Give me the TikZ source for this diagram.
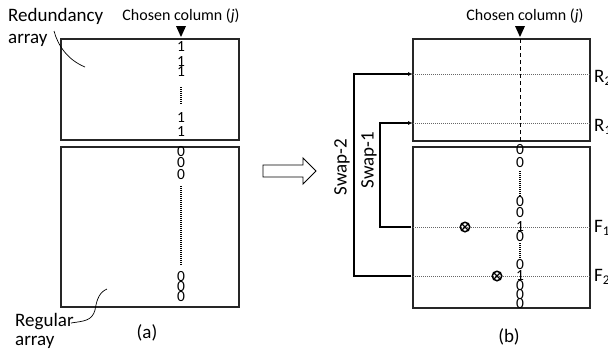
\documentclass[tikz,border=0pt]{standalone}
\usepackage{fontspec}
\setmainfont{Carlito}
\usetikzlibrary{arrows.meta}
\begin{document}
\begin{tikzpicture}[x=1pt,y=-1pt,
  box/.style={draw=black!85,line width=1.3pt,inner sep=0,outer sep=0,anchor=north west,minimum width=178pt},
  lbl/.style={font=\fontsize{19}{22}\selectfont,inner sep=0},
  captxt/.style={font=\fontsize{16}{18}\selectfont,inner sep=0},
  dig/.style={font=\fontsize{15.5}{15}\selectfont,inner sep=0},
  pointer/.style={fill=black},
  rowline/.style={draw=black!60,line width=0.8pt,dash pattern=on 1pt off 1pt},
  coldots/.style={draw=black,line width=1.6pt,dash pattern=on 1pt off 1pt},
  swap/.style={draw=black,line width=1.6pt},
  curve/.style={draw=black,line width=0.7pt},
  fault/.style={circle,draw=black,line width=1.5pt,minimum size=9.5pt,inner sep=0,
    path picture={\draw[line width=1.3pt] (path picture bounding box.south west)--(path picture bounding box.north east)
      (path picture bounding box.north west)--(path picture bounding box.south east);}}]
\useasboundingbox (0,0) rectangle (608,349);
% ---------- (a) ----------
\node[box,minimum height=101pt] (ra) at (61,39) {};
\node[box,minimum height=160pt] (ga) at (61,147) {};
\node[captxt] (cha) at (181,16) {Chosen column (\textit{j})};
\fill[pointer] (176,26) -- (186,26) -- (181,37) -- cycle;
\foreach \y in {47,62,72,118,132} \node[dig] at (181,\y) {1};
\foreach \y in {152,163,175,277,287,297} \node[dig] at (181,\y) {0};
\draw[coldots,line width=1.2pt] (181,87) -- (181,104);
\draw[coldots] (181,186) -- (181,266);
\node[lbl,anchor=west] (red) at (8,16) {Redundancy};
\node[lbl,anchor=west] (redb) at (8,40) {array};
\coordinate (redp) at (85,67);
\draw[curve] (54,31) .. controls (58,46) and (68,60) .. (redp);
\node[lbl,anchor=west] (reg) at (15,322) {Regular};
\node[lbl,anchor=west] (regb) at (15,342) {array};
\coordinate (regp) at (107,289);
\draw[curve] (71,323) .. controls (84,321) and (92,321) .. (95,310) .. controls (97,298) and (100,292) .. (regp);
\node[lbl] (la) at (147,333) {(a)};
% ---------- arrow ----------
\draw[line width=0.9pt,fill=white] (263,165) -- (303,165) -- (303,158) -- (316,171) -- (303,184) -- (303,177) -- (263,177) -- cycle;
% ---------- (b) ----------
\node[box,minimum height=102pt,minimum width=177pt] (rb) at (413,39) {};
\node[box,minimum height=161pt,minimum width=177pt] (gb) at (413,147) {};
\node[captxt] (chb) at (525,16) {Chosen column (\textit{j})};
\fill[pointer] (515,26) -- (525,26) -- (520,37) -- cycle;
\draw[line width=0.9pt,dash pattern=on 4pt off 3pt] (520,39) -- (520,141);
% row lines
\foreach \n/\y in {R2/74,R1/123,F1/227,F2/276}{
  \coordinate (\n w) at (413,\y);
  \coordinate (\n e) at (590,\y);
  \draw[rowline] (\n w) -- (\n e);
}
\node[lbl,anchor=west] (lR2) at (594,78) {R\textsubscript{2}};
\node[lbl,anchor=west] (lR1) at (594,127) {R\textsubscript{1}};
\node[lbl,anchor=west] (lF1) at (594,228) {F\textsubscript{1}};
\node[lbl,anchor=west] (lF2) at (594,277) {F\textsubscript{2}};
% column
\foreach \y in {150,163,202,213,237,265,286,295,304} \node[dig] at (520,\y) {0};
\foreach \y in {227,276} \node[dig] at (520,\y) {1};
\draw[coldots] (520,171) -- (520,196);
\draw[coldots] (520,243) -- (520,259);
% faults
\node[fault] (f1) at (465,227) {};
\node[fault] (f2) at (497,276) {};
% swaps
\coordinate (s1a) at (411,227);
\coordinate (s2a) at (411,276);
\draw[swap,-{Latex[length=5pt,width=4pt]}] (s1a) -- (380,227) -- (380,123) -- (R1w);
\draw[swap,-{Latex[length=5pt,width=4pt]}] (s2a) -- (354,276) -- (354,74) -- (R2w);
\node[lbl,rotate=90] (sw2) at (342,167) {Swap-2};
\node[lbl,rotate=90] (sw1) at (369,160) {Swap-1};
\node[lbl] (lb) at (509,337) {(b)};
\end{tikzpicture}
\end{document}
